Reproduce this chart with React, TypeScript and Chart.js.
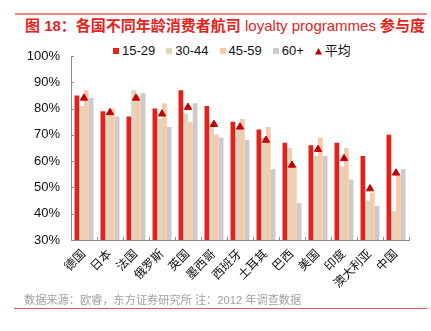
import React, { useEffect, useRef } from 'react';
import { Chart, registerables } from 'chart.js';
Chart.register(...registerables);

const categories = ['德国', '日本', '法国', '俄罗斯', '英国', '墨西哥', '西班牙', '土耳其', '巴西', '美国', '印度', '澳大利亚', '中国'];
const age15to29 = [85, 79, 77, 80, 87, 81, 75, 72, 67, 66, 67, 62, 70];
const age30to44 = [81, 78, 87, 76, 78, 75, 72, 69, 65, 62, 58, 45, 41];
const age45to59 = [87, 80, 85, 82, 75, 70, 76, 73, 58, 69, 65, 48, 55];
const age60plus = [84, 77, 86, 73, 82, 69, 68, 57, 44, 62, 53, 43, 57];
const average = [84, 78.5, 84, 78, 80.5, 74, 73, 68, 58.5, 64.5, 61, 49.5, 55.5];
const yTicks = [30, 40, 50, 60, 70, 80, 90, 100];
const seriesNames = ['15-29', '30-44', '45-59', '60+', '平均'];
const seriesColors = ['#e3211c', '#ded5bd', '#f8caab', '#cbcbcb', '#c00000'];

const FONT = "'Liberation Sans', 'Noto Sans CJK SC', Arial, sans-serif";
const AXIS_COLOR = '#8c8c8c';

const innerTicks = {
  id: 'innerTicks',
  afterDraw(chart: any) {
    const { ctx, chartArea, scales } = chart;
    const xs = scales.x;
    const ys = scales.y;
    ctx.save();
    ctx.strokeStyle = AXIS_COLOR;
    ctx.lineWidth = 1;
    ctx.beginPath();
    for (const v of yTicks) {
      const py = Math.round(ys.getPixelForValue(v)) + 0.5;
      ctx.moveTo(chartArea.left, py);
      ctx.lineTo(chartArea.left + 3, py);
    }
    for (let i = 0; i <= categories.length; i++) {
      const px = Math.round(xs.getPixelForValue(i - 0.5)) + 0.5;
      ctx.moveTo(px, chartArea.bottom);
      ctx.lineTo(px, chartArea.bottom - 3);
    }
    ctx.stroke();
    ctx.restore();
  },
};

function LegendItem({ label, color, triangle }: { label: string; color: string; triangle?: boolean }) {
  return (
    <div style={{ display: 'flex', alignItems: 'center', marginRight: 11 }}>
      {triangle ? (
        <svg width="7" height="7" style={{ marginRight: 3 }}>
          <polygon points="3.5,0 7,6.5 0,6.5" fill={color} />
        </svg>
      ) : (
        <div style={{ width: 6, height: 6, background: color, marginRight: 3 }} />
      )}
      <span>{label}</span>
    </div>
  );
}

export default function App() {
  const ref = useRef<HTMLCanvasElement>(null);

  useEffect(() => {
    if (!ref.current) return;
    const barSeries = [age15to29, age30to44, age45to59, age60plus];
    const chart = new Chart(ref.current, {
      type: 'bar',
      data: {
        labels: categories,
        datasets: [
          {
            type: 'line' as any,
            label: seriesNames[4],
            data: average,
            showLine: false,
            pointStyle: 'triangle',
            pointRadius: 4.2,
            pointBackgroundColor: seriesColors[4],
            pointBorderColor: seriesColors[4],
            pointBorderWidth: 1,
            order: 0,
          } as any,
          ...barSeries.map((d, i) => ({
            type: 'bar' as any,
            label: seriesNames[i],
            data: d,
            backgroundColor: seriesColors[i],
            borderWidth: 0,
            barPercentage: 1,
            categoryPercentage: 0.73,
            order: 1,
          })),
        ],
      },
      options: {
        responsive: false,
        animation: false,
        layout: { padding: { left: 20, right: 22, top: 56, bottom: 41 } },
        plugins: {
          legend: { display: false },
          tooltip: { enabled: false },
          title: { display: false },
        },
        scales: {
          x: {
            offset: true,
            grid: { display: false, drawTicks: false },
            border: { display: true, color: AXIS_COLOR, width: 1 },
            ticks: {
              autoSkip: false,
              maxRotation: 45,
              minRotation: 45,
              padding: 7,
              color: '#111',
              font: { family: FONT, size: 12 },
            },
            afterFit: (s: any) => {
              s.height = 50;
            },
          },
          y: {
            min: 30,
            max: 100,
            grid: { display: false, drawTicks: false },
            border: { display: true, color: AXIS_COLOR, width: 1 },
            ticks: {
              stepSize: 10,
              padding: 11,
              color: '#111',
              font: { family: FONT, size: 13 },
              callback: (v: any) => v + '%',
            },
            afterFit: (s: any) => {
              s.width = 51;
            },
          },
        },
      },
      plugins: [innerTicks],
    });
    return () => chart.destroy();
  }, []);

  return (
    <div style={{ position: 'absolute', left: 0, top: 0, width: 431, height: 331, background: '#fff', fontFamily: FONT }}>
      <div style={{ position: 'absolute', left: 15, top: 13, width: 412, height: 2, background: '#ee8585' }} />
      <div
        style={{
          position: 'absolute',
          left: 25,
          top: 17,
          whiteSpace: 'nowrap',
          fontSize: 15,
          color: '#e5231e',
          lineHeight: '18px',
        }}
      >
        <b>图 18：各国不同年龄消费者航司</b> loyalty programmes <b>参与度</b>
      </div>
      <div
        style={{
          position: 'absolute',
          left: 113,
          top: 43,
          display: 'flex',
          alignItems: 'center',
          fontSize: 13,
          lineHeight: '16px',
          color: '#111',
          whiteSpace: 'nowrap',
        }}
      >
        {seriesNames.map((n, i) => (
          <LegendItem key={n} label={n} color={seriesColors[i]} triangle={i === 4} />
        ))}
      </div>
      <canvas ref={ref} width={431} height={331} style={{ position: 'absolute', left: 0, top: 0 }} />
      <div
        style={{
          position: 'absolute',
          left: 24,
          top: 293,
          fontSize: 11.2,
          color: '#a0a0a0',
          whiteSpace: 'nowrap',
          lineHeight: '14px',
        }}
      >
        数据来源：欧睿，东方证券研究所 注：2012 年调查数据
      </div>
      <div style={{ position: 'absolute', left: 14, top: 308, width: 413, height: 1, background: '#e05a5a' }} />
    </div>
  );
}
